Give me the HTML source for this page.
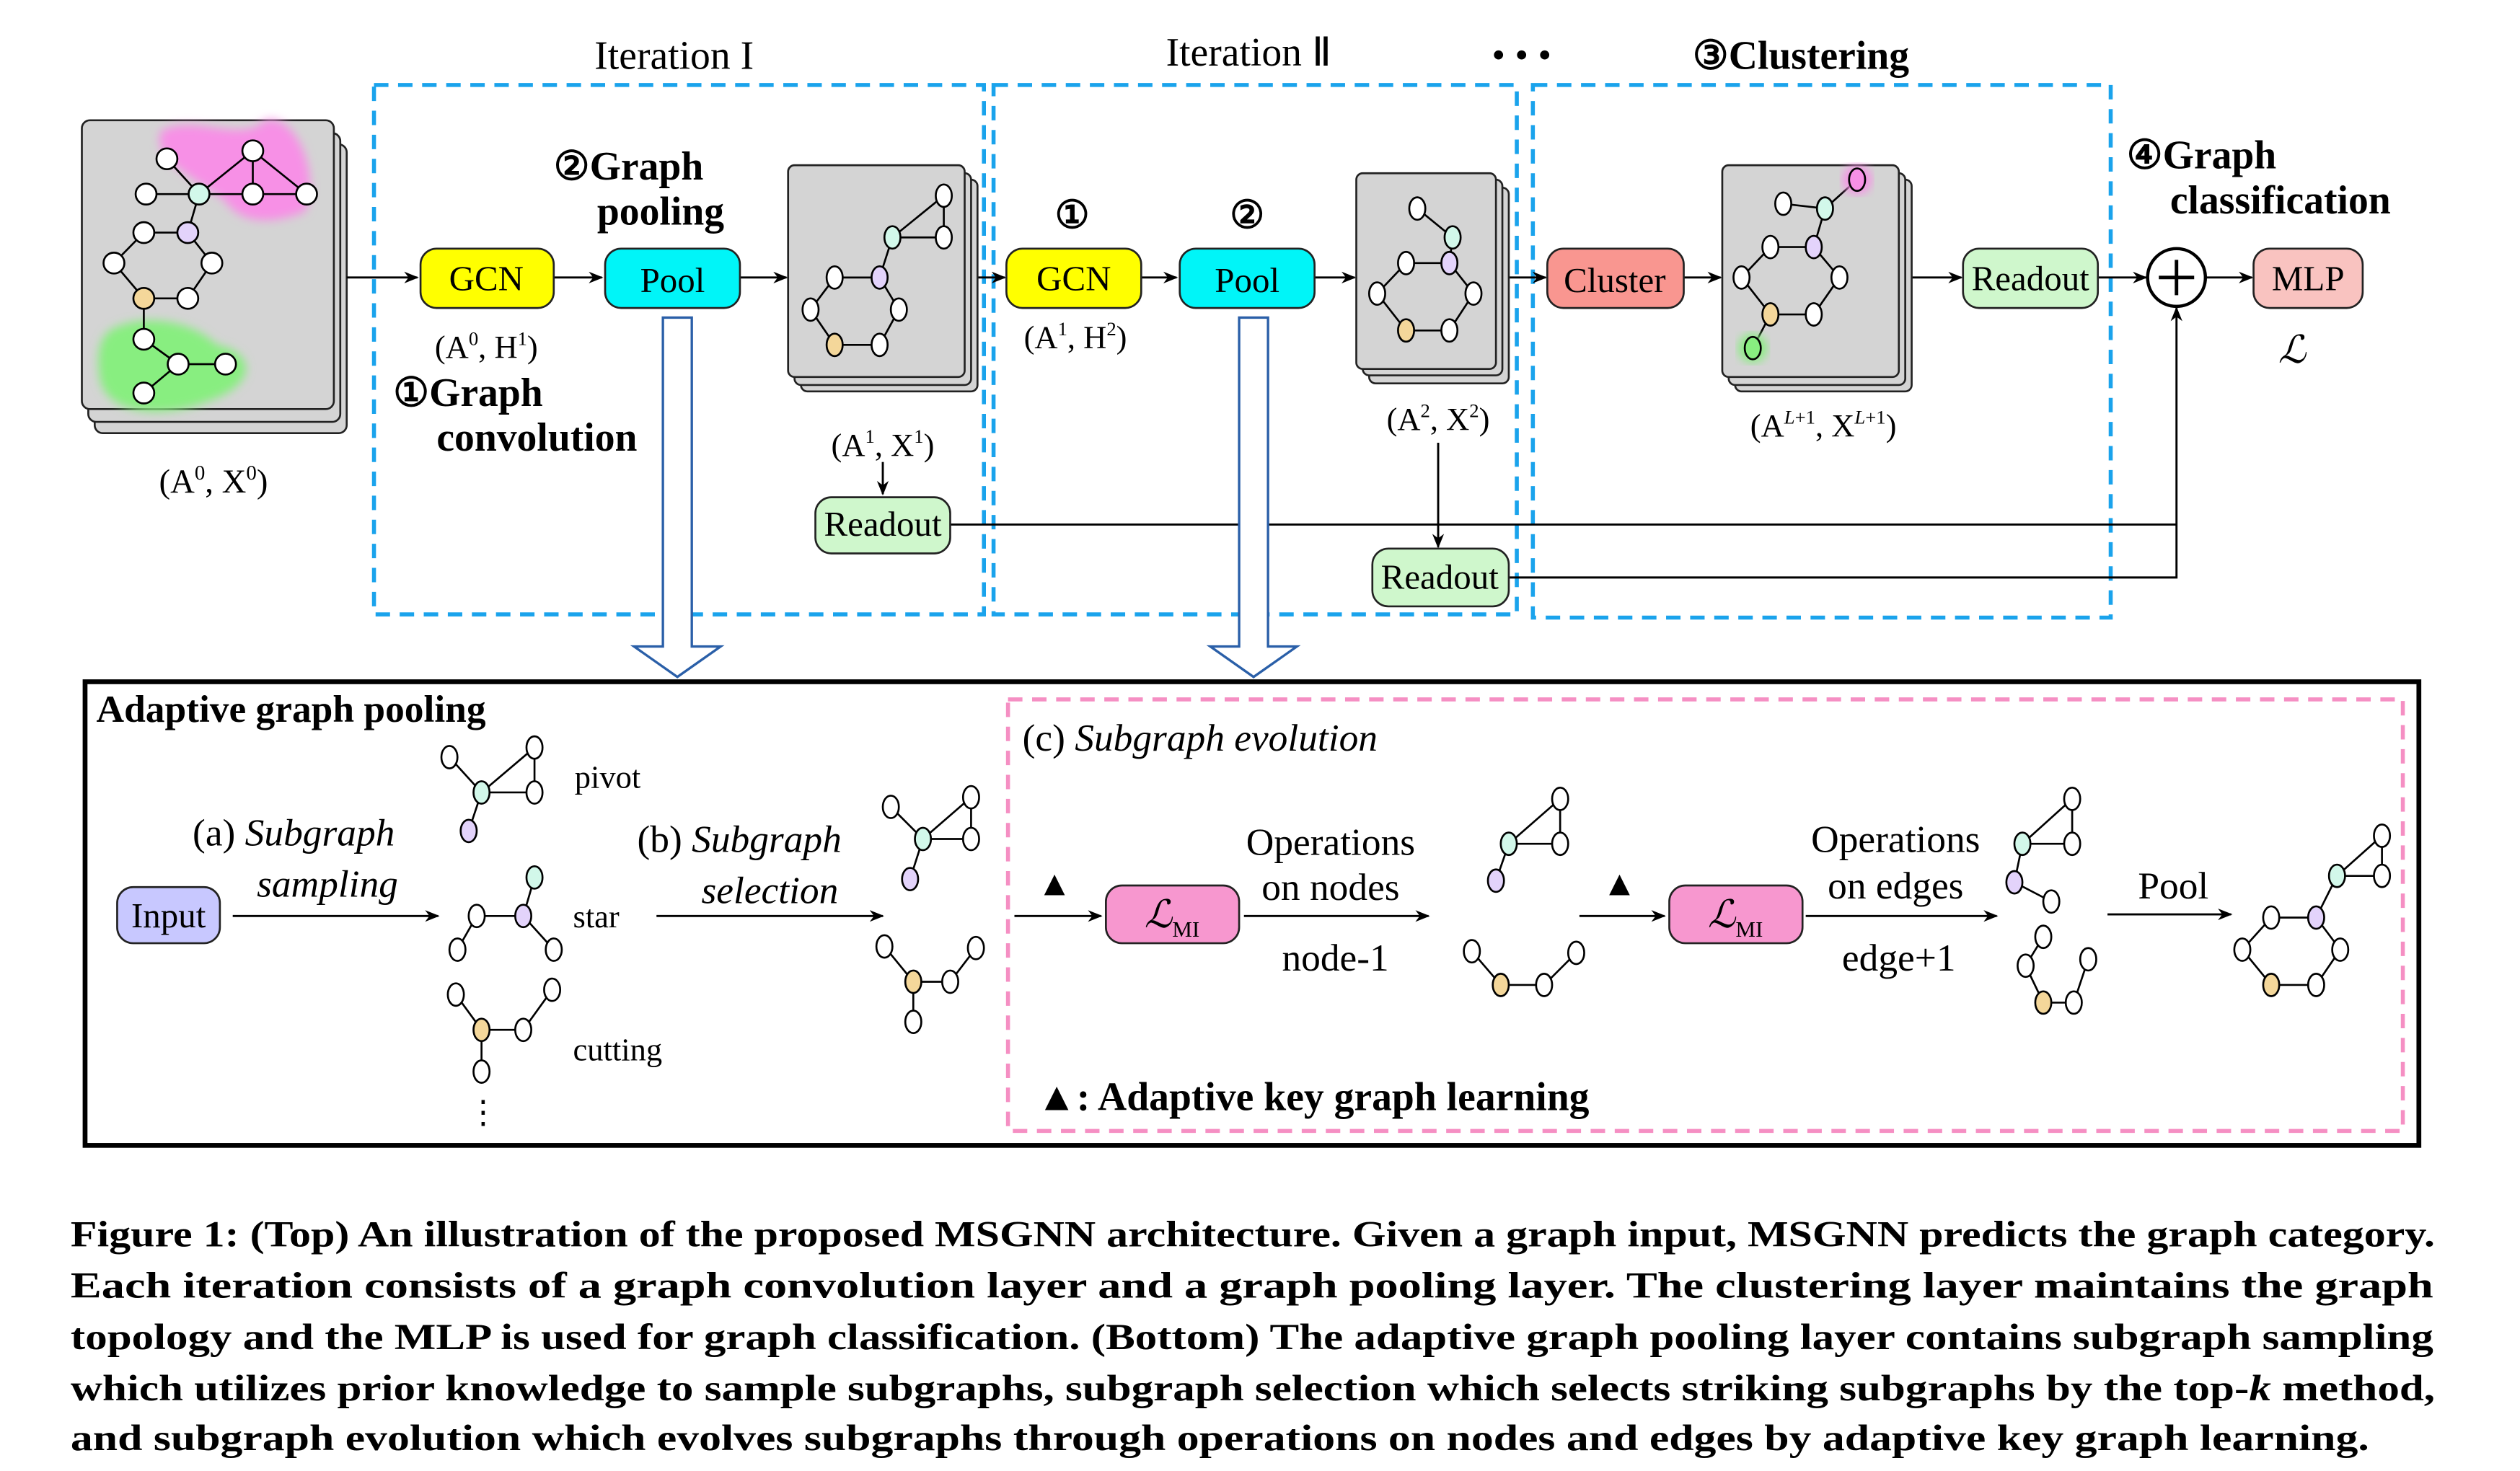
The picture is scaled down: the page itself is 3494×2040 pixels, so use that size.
<!DOCTYPE html>
<html><head><meta charset="utf-8"><style>
html,body{margin:0;padding:0;background:#fff}
svg{display:block}
text{font-family:"Liberation Serif",serif;fill:#000}
.b{font-weight:bold}
.i{font-style:italic}
.e line,.e path{stroke:#000;stroke-width:1.2;fill:none}
.n ellipse,.n circle{stroke:#000;stroke-width:1.2}
</style></head><body>
<svg width="3494" height="2040" viewBox="0 0 1570 917" preserveAspectRatio="none" xmlns="http://www.w3.org/2000/svg">
<defs>
<marker id="ar" viewBox="0 0 10 10" refX="9" refY="5" markerWidth="7" markerHeight="7" orient="auto"><path d="M0,1 L10,5 L0,9 L3,5 Z" fill="#000"/></marker>
<filter id="bl"><feGaussianBlur stdDeviation="3"/></filter>
</defs>

<g fill="none" stroke="#1aa3ec" stroke-width="2.5" stroke-dasharray="9,6">
<rect x="233" y="53" width="380" height="330"/>
<rect x="619" y="53" width="326" height="330"/>
<rect x="955" y="53" width="360" height="332"/>
</g>
<text x="420" y="43" font-size="25" text-anchor="middle">Iteration I</text>
<text x="778" y="41" font-size="25" text-anchor="middle">Iteration Ⅱ</text>
<text x="948" y="42" font-size="24" text-anchor="middle">• • •</text>
<text x="1122" y="43" font-size="25" text-anchor="middle" class="b">③Clustering</text>

<g fill="#d4d4d4" stroke="#222" stroke-width="1.2">
<rect x="59" y="90" width="157" height="180" rx="5"/>
<rect x="55" y="83" width="157" height="180" rx="5"/>
<rect x="51" y="75" width="157" height="180" rx="5"/>
</g>
<path d="M100,82 C120,70 150,90 165,75 C185,70 200,110 190,132 C170,140 150,140 140,125 C120,110 95,100 100,82Z" fill="#f790e6" filter="url(#bl)"/>
<path d="M70,205 C90,195 120,200 135,215 C160,220 160,240 130,250 C100,262 65,258 62,235 C60,220 62,210 70,205Z" fill="#88ee80" filter="url(#bl)"/>
<g class="e">
<line x1="104" y1="99" x2="124" y2="121"/><line x1="91" y1="121" x2="191" y2="121"/>
<line x1="124" y1="121" x2="157.5" y2="94"/><line x1="157.5" y1="94" x2="157.5" y2="121"/><line x1="157.5" y1="94" x2="191" y2="121"/>
<line x1="124" y1="121" x2="117" y2="145"/>
<path d="M89.6,145 L117,145 L132,164 L117,186 L89.6,186 L71,164 Z"/>
<line x1="89.6" y1="186" x2="89.6" y2="211.5"/><line x1="89.6" y1="211.5" x2="111" y2="227"/><line x1="111" y1="227" x2="140.5" y2="227"/><line x1="111" y1="227" x2="89.6" y2="245"/>
</g>
<g class="n" fill="#fff">
<circle cx="104" cy="99" r="6.5"/><circle cx="157.5" cy="94" r="6.5"/><circle cx="124" cy="121" r="6.5" fill="#d2f8ea"/><circle cx="91" cy="121" r="6.5"/><circle cx="157.5" cy="121" r="6.5"/><circle cx="191" cy="121" r="6.5"/>
<circle cx="89.6" cy="145" r="6.5"/><circle cx="117" cy="145" r="6.5" fill="#e3d3fb"/><circle cx="71" cy="164" r="6.5"/><circle cx="132" cy="164" r="6.5"/><circle cx="89.6" cy="186" r="6.5" fill="#f4d79a"/><circle cx="117" cy="186" r="6.5"/>
<circle cx="89.6" cy="211.5" r="6.5"/><circle cx="111" cy="227" r="6.5"/><circle cx="140.5" cy="227" r="6.5"/><circle cx="89.6" cy="245" r="6.5"/>
</g>
<text x="133" y="307" font-size="21" text-anchor="middle">(A<tspan font-size="13" dy="-8">0</tspan><tspan dy="8">, X</tspan><tspan font-size="13" dy="-8">0</tspan><tspan dy="8">)</tspan></text>

<g stroke="#000" stroke-width="1.3" marker-end="url(#ar)">
<line x1="216" y1="173" x2="260" y2="173"/>
<line x1="345" y1="173" x2="375" y2="173"/>
<line x1="461" y1="173" x2="490" y2="173"/>
<line x1="608" y1="173" x2="626" y2="173"/>
<line x1="711" y1="173" x2="733" y2="173"/>
<line x1="819" y1="173" x2="844" y2="173"/>
<line x1="940" y1="173" x2="963" y2="173"/>
<line x1="1049" y1="173" x2="1072" y2="173"/>
<line x1="1190" y1="173" x2="1222" y2="173"/>
<line x1="1307" y1="173" x2="1337" y2="173"/>
<line x1="1374" y1="173" x2="1403" y2="173"/>
<line x1="550" y1="288" x2="550" y2="308"/>
<line x1="896" y1="276" x2="896" y2="341"/>
<line x1="1356" y1="327" x2="1356" y2="192"/>
</g>
<g stroke="#000" stroke-width="1.3" fill="none">
<polyline points="592,327 1356,327"/>
<polyline points="940,360 1356,360 1356,327"/>
</g>

<g stroke="#222" stroke-width="1.2">
<rect x="262" y="155" width="83" height="37" rx="10" fill="#ffff00"/>
<rect x="377" y="155" width="84" height="37" rx="10" fill="#00f5f8"/>
<rect x="627" y="155" width="84" height="37" rx="10" fill="#ffff00"/>
<rect x="735" y="155" width="84" height="37" rx="10" fill="#00f5f8"/>
<rect x="964" y="155" width="85" height="37" rx="10" fill="#f99690"/>
<rect x="1223" y="155" width="84" height="37" rx="10" fill="#cff7cc"/>
<rect x="1404" y="155" width="68" height="37" rx="10" fill="#f9c3c0"/>
<rect x="508" y="310" width="84" height="35" rx="10" fill="#cff7cc"/>
<rect x="855" y="342" width="85" height="36" rx="10" fill="#cff7cc"/>
</g>
<circle cx="1356" cy="173" r="18" fill="#fff" stroke="#000" stroke-width="2"/>
<path d="M1345,173 H1367 M1356,162 V184" stroke="#000" stroke-width="2.2"/>
<g font-size="22" text-anchor="middle">
<text x="303" y="181">GCN</text><text x="419" y="182">Pool</text>
<text x="669" y="181">GCN</text><text x="777" y="182">Pool</text>
<text x="1006" y="182">Cluster</text><text x="1265" y="181">Readout</text>
<text x="1438" y="181">MLP</text>
<text x="550" y="334">Readout</text><text x="897" y="367">Readout</text>
</g>
<text x="1428" y="226" font-size="24" class="i" text-anchor="middle">ℒ</text>

<text x="345" y="112" font-size="25" class="b">②Graph</text>
<text x="372" y="140" font-size="25" class="b">pooling</text>
<text x="245" y="253" font-size="25" class="b">①Graph</text>
<text x="272" y="281" font-size="25" class="b">convolution</text>
<text x="1325" y="105" font-size="25" class="b">④Graph</text>
<text x="1352" y="133" font-size="25" class="b">classification</text>
<text x="668" y="142" font-size="24" class="b" text-anchor="middle">①</text>
<text x="777" y="142" font-size="24" class="b" text-anchor="middle">②</text>

<g font-size="20" text-anchor="middle">
<text x="303" y="223">(A<tspan font-size="12" dy="-8">0</tspan><tspan dy="8">, H</tspan><tspan font-size="12" dy="-8">1</tspan><tspan dy="8">)</tspan></text>
<text x="670" y="217">(A<tspan font-size="12" dy="-8">1</tspan><tspan dy="8">, H</tspan><tspan font-size="12" dy="-8">2</tspan><tspan dy="8">)</tspan></text>
<text x="550" y="284">(A<tspan font-size="12" dy="-8">1</tspan><tspan dy="8">, X</tspan><tspan font-size="12" dy="-8">1</tspan><tspan dy="8">)</tspan></text>
<text x="896" y="268">(A<tspan font-size="12" dy="-8">2</tspan><tspan dy="8">, X</tspan><tspan font-size="12" dy="-8">2</tspan><tspan dy="8">)</tspan></text>
<text x="1136" y="272">(A<tspan font-size="12" dy="-8" class="i">L</tspan><tspan font-size="12">+1</tspan><tspan dy="8">, X</tspan><tspan font-size="12" dy="-8" class="i">L</tspan><tspan font-size="12">+1</tspan><tspan dy="8">)</tspan></text>
</g>

<g fill="#d4d4d4" stroke="#222" stroke-width="1.2">
<rect x="499" y="112" width="110" height="132" rx="4"/><rect x="495" y="108" width="110" height="132" rx="4"/><rect x="491" y="103" width="110" height="132" rx="4"/>
<rect x="853" y="117" width="87" height="122" rx="4"/><rect x="849" y="112" width="87" height="122" rx="4"/><rect x="845" y="108" width="87" height="122" rx="4"/>
<rect x="1081" y="112" width="110" height="132" rx="4"/><rect x="1077" y="108" width="110" height="132" rx="4"/><rect x="1073" y="103" width="110" height="132" rx="4"/>
</g>
<g class="e">
<line x1="588" y1="122" x2="556" y2="148"/><line x1="588" y1="122" x2="588" y2="148"/><line x1="556" y1="148" x2="588" y2="148"/><line x1="556" y1="148" x2="548" y2="173"/>
<path d="M520,173 L548,173 L560,193 L548,215 L520,215 L505,193 Z"/>
<line x1="883" y1="130" x2="905" y2="148"/><line x1="905" y1="148" x2="903" y2="164"/>
<path d="M876,164 L903,164 L918,183 L903,206 L876,206 L858,183 Z"/>
<line x1="1157" y1="112" x2="1137" y2="130"/><line x1="1111" y1="127" x2="1137" y2="130"/><line x1="1137" y1="130" x2="1130" y2="154"/>
<path d="M1103,154 L1130,154 L1146,173 L1130,196 L1103,196 L1085,173 Z"/><line x1="1103" y1="196" x2="1092" y2="217"/>
</g>
<circle cx="1157" cy="112" r="9" fill="#f790e6" filter="url(#bl)"/>
<circle cx="1092" cy="217" r="9" fill="#88ee80" filter="url(#bl)"/>
<g class="n" fill="#fff">
<ellipse cx="588" cy="122" rx="5" ry="7"/><ellipse cx="556" cy="148" rx="5" ry="7" fill="#d2f8ea"/><ellipse cx="588" cy="148" rx="5" ry="7"/>
<ellipse cx="520" cy="173" rx="5" ry="7"/><ellipse cx="548" cy="173" rx="5" ry="7" fill="#e3d3fb"/><ellipse cx="505" cy="193" rx="5" ry="7"/><ellipse cx="560" cy="193" rx="5" ry="7"/><ellipse cx="520" cy="215" rx="5" ry="7" fill="#f4d79a"/><ellipse cx="548" cy="215" rx="5" ry="7"/>
<ellipse cx="883" cy="130" rx="5" ry="7"/><ellipse cx="905" cy="148" rx="5" ry="7" fill="#d2f8ea"/><ellipse cx="876" cy="164" rx="5" ry="7"/><ellipse cx="903" cy="164" rx="5" ry="7" fill="#e3d3fb"/><ellipse cx="858" cy="183" rx="5" ry="7"/><ellipse cx="918" cy="183" rx="5" ry="7"/><ellipse cx="876" cy="206" rx="5" ry="7" fill="#f4d79a"/><ellipse cx="903" cy="206" rx="5" ry="7"/>
<ellipse cx="1157" cy="112" rx="5" ry="7" fill="#f790e6"/><ellipse cx="1137" cy="130" rx="5" ry="7" fill="#d2f8ea"/><ellipse cx="1111" cy="127" rx="5" ry="7"/><ellipse cx="1103" cy="154" rx="5" ry="7"/><ellipse cx="1130" cy="154" rx="5" ry="7" fill="#e3d3fb"/><ellipse cx="1085" cy="173" rx="5" ry="7"/><ellipse cx="1146" cy="173" rx="5" ry="7"/><ellipse cx="1103" cy="196" rx="5" ry="7" fill="#f4d79a"/><ellipse cx="1130" cy="196" rx="5" ry="7"/><ellipse cx="1092" cy="217" rx="5" ry="7" fill="#88ee80"/>
</g>

<g fill="#fff" stroke="#2a5fa8" stroke-width="1.5">
<path d="M413,198 H431 V403 H449 L422,422 L395,403 H413 Z"/>
<path d="M772,198 H790 V403 H808 L781,422 L754,403 H772 Z"/>
</g>

<rect x="53" y="425" width="1454" height="289" fill="none" stroke="#000" stroke-width="3"/>
<rect x="628" y="436" width="869" height="269" fill="none" stroke="#f58fc3" stroke-width="2.5" stroke-dasharray="9,6"/>
<text x="60" y="450" font-size="24" class="b">Adaptive graph pooling</text>

<rect x="73" y="553" width="64" height="35" rx="10" fill="#c8c8ff" stroke="#222" stroke-width="1.2"/>
<text x="105" y="578" font-size="22" text-anchor="middle">Input</text>
<g stroke="#000" stroke-width="1.3" marker-end="url(#ar)">
<line x1="145" y1="571" x2="273" y2="571"/>
<line x1="409" y1="571" x2="550" y2="571"/>
<line x1="632" y1="571" x2="686" y2="571"/>
<line x1="775" y1="571" x2="890" y2="571"/>
<line x1="984" y1="571" x2="1037" y2="571"/>
<line x1="1125" y1="571" x2="1244" y2="571"/>
<line x1="1313" y1="570" x2="1390" y2="570"/>
</g>
<g font-size="24">
<text x="120" y="527">(a) <tspan class="i">Subgraph</tspan></text>
<text x="160" y="559" class="i">sampling</text>
<text x="397" y="531">(b) <tspan class="i">Subgraph</tspan></text>
<text x="437" y="563" class="i">selection</text>
<text x="637" y="468">(c) <tspan class="i">Subgraph evolution</tspan></text>
<text x="829" y="533" text-anchor="middle">Operations</text>
<text x="829" y="561" text-anchor="middle">on nodes</text>
<text x="832" y="605" text-anchor="middle">node-1</text>
<text x="1181" y="531" text-anchor="middle">Operations</text>
<text x="1181" y="560" text-anchor="middle">on edges</text>
<text x="1183" y="605" text-anchor="middle">edge+1</text>
<text x="1354" y="560" text-anchor="middle">Pool</text>
</g>
<g font-size="20">
<text x="358" y="491">pivot</text><text x="357" y="578">star</text><text x="357" y="661">cutting</text>
</g>
<text x="301" y="700" font-size="20" text-anchor="middle">⋮</text>
<text x="657" y="558" font-size="22" text-anchor="middle">▲</text>
<text x="1009" y="558" font-size="22" text-anchor="middle">▲</text>
<text x="646" y="692" font-size="25" class="b">▲: Adaptive key graph learning</text>
<g stroke="#222" stroke-width="1.2" fill="#f797cf">
<rect x="689" y="552" width="83" height="36" rx="10"/><rect x="1040" y="552" width="83" height="36" rx="10"/>
</g>
<text x="713" y="578" font-size="24" class="i">ℒ<tspan font-size="14" dy="6" font-style="normal">MI</tspan></text>
<text x="1064" y="578" font-size="24" class="i">ℒ<tspan font-size="14" dy="6" font-style="normal">MI</tspan></text>

<g class="e">
<line x1="280" y1="472" x2="300" y2="494"/><line x1="333" y1="466" x2="300" y2="494"/><line x1="333" y1="466" x2="333" y2="494"/><line x1="300" y1="494" x2="333" y2="494"/><line x1="300" y1="494" x2="292" y2="518"/>
<line x1="333" y1="547" x2="326" y2="571"/><line x1="297" y1="571" x2="326" y2="571"/><line x1="297" y1="571" x2="285" y2="592"/><line x1="326" y1="571" x2="345" y2="592"/>
<line x1="284" y1="620" x2="300" y2="642"/><line x1="300" y1="642" x2="326" y2="642"/><line x1="326" y1="642" x2="344" y2="617"/><line x1="300" y1="642" x2="300" y2="668"/>
<line x1="555" y1="503" x2="575" y2="523"/><line x1="605" y1="497" x2="575" y2="523"/><line x1="605" y1="497" x2="605" y2="523"/><line x1="575" y1="523" x2="605" y2="523"/><line x1="575" y1="523" x2="567" y2="548"/>
<line x1="551" y1="590" x2="569" y2="612"/><line x1="569" y1="612" x2="592" y2="612"/><line x1="592" y1="612" x2="608" y2="591"/><line x1="569" y1="612" x2="569" y2="637"/>
<line x1="972" y1="498" x2="940" y2="526"/><line x1="972" y1="498" x2="972" y2="526"/><line x1="940" y1="526" x2="972" y2="526"/><line x1="940" y1="526" x2="932" y2="549"/>
<line x1="917" y1="593" x2="935" y2="614"/><line x1="935" y1="614" x2="962" y2="614"/><line x1="962" y1="614" x2="982" y2="594"/>
<line x1="1291" y1="498" x2="1260" y2="526"/><line x1="1291" y1="498" x2="1291" y2="526"/><line x1="1260" y1="526" x2="1291" y2="526"/><line x1="1260" y1="526" x2="1255" y2="550"/><line x1="1255" y1="550" x2="1278" y2="562"/>
<line x1="1273" y1="584" x2="1262" y2="602"/><line x1="1262" y1="602" x2="1273" y2="625"/><line x1="1273" y1="625" x2="1292" y2="625"/><line x1="1292" y1="625" x2="1301" y2="598"/>
<line x1="1484" y1="521" x2="1456" y2="546"/><line x1="1484" y1="521" x2="1484" y2="546"/><line x1="1456" y1="546" x2="1484" y2="546"/><line x1="1456" y1="546" x2="1443" y2="572"/>
<path d="M1415,572 L1443,572 L1458,592 L1443,614 L1415,614 L1397,592 Z"/>
</g>
<g class="n" fill="#fff">
<ellipse cx="280" cy="472" rx="5" ry="7"/><ellipse cx="333" cy="466" rx="5" ry="7"/><ellipse cx="300" cy="494" rx="5" ry="7" fill="#d2f8ea"/><ellipse cx="333" cy="494" rx="5" ry="7"/><ellipse cx="292" cy="518" rx="5" ry="7" fill="#e3d3fb"/>
<ellipse cx="333" cy="547" rx="5" ry="7" fill="#d2f8ea"/><ellipse cx="326" cy="571" rx="5" ry="7" fill="#e3d3fb"/><ellipse cx="297" cy="571" rx="5" ry="7"/><ellipse cx="285" cy="592" rx="5" ry="7"/><ellipse cx="345" cy="592" rx="5" ry="7"/>
<ellipse cx="284" cy="620" rx="5" ry="7"/><ellipse cx="344" cy="617" rx="5" ry="7"/><ellipse cx="300" cy="642" rx="5" ry="7" fill="#f4d79a"/><ellipse cx="326" cy="642" rx="5" ry="7"/><ellipse cx="300" cy="668" rx="5" ry="7"/>
<ellipse cx="555" cy="503" rx="5" ry="7"/><ellipse cx="605" cy="497" rx="5" ry="7"/><ellipse cx="575" cy="523" rx="5" ry="7" fill="#d2f8ea"/><ellipse cx="605" cy="523" rx="5" ry="7"/><ellipse cx="567" cy="548" rx="5" ry="7" fill="#e3d3fb"/>
<ellipse cx="551" cy="590" rx="5" ry="7"/><ellipse cx="608" cy="591" rx="5" ry="7"/><ellipse cx="569" cy="612" rx="5" ry="7" fill="#f4d79a"/><ellipse cx="592" cy="612" rx="5" ry="7"/><ellipse cx="569" cy="637" rx="5" ry="7"/>
<ellipse cx="972" cy="498" rx="5" ry="7"/><ellipse cx="940" cy="526" rx="5" ry="7" fill="#d2f8ea"/><ellipse cx="972" cy="526" rx="5" ry="7"/><ellipse cx="932" cy="549" rx="5" ry="7" fill="#e3d3fb"/>
<ellipse cx="917" cy="593" rx="5" ry="7"/><ellipse cx="935" cy="614" rx="5" ry="7" fill="#f4d79a"/><ellipse cx="962" cy="614" rx="5" ry="7"/><ellipse cx="982" cy="594" rx="5" ry="7"/>
<ellipse cx="1291" cy="498" rx="5" ry="7"/><ellipse cx="1260" cy="526" rx="5" ry="7" fill="#d2f8ea"/><ellipse cx="1291" cy="526" rx="5" ry="7"/><ellipse cx="1255" cy="550" rx="5" ry="7" fill="#e3d3fb"/><ellipse cx="1278" cy="562" rx="5" ry="7"/>
<ellipse cx="1273" cy="584" rx="5" ry="7"/><ellipse cx="1262" cy="602" rx="5" ry="7"/><ellipse cx="1273" cy="625" rx="5" ry="7" fill="#f4d79a"/><ellipse cx="1292" cy="625" rx="5" ry="7"/><ellipse cx="1301" cy="598" rx="5" ry="7"/>
<ellipse cx="1484" cy="521" rx="5" ry="7"/><ellipse cx="1456" cy="546" rx="5" ry="7" fill="#d2f8ea"/><ellipse cx="1484" cy="546" rx="5" ry="7"/>
<ellipse cx="1415" cy="572" rx="5" ry="7"/><ellipse cx="1443" cy="572" rx="5" ry="7" fill="#e3d3fb"/><ellipse cx="1397" cy="592" rx="5" ry="7"/><ellipse cx="1458" cy="592" rx="5" ry="7"/><ellipse cx="1415" cy="614" rx="5" ry="7" fill="#f4d79a"/><ellipse cx="1443" cy="614" rx="5" ry="7"/>
</g>

<g font-size="23" class="b">
<text x="44" y="777" textLength="1473" lengthAdjust="spacingAndGlyphs">Figure 1: (Top) An illustration of the proposed MSGNN architecture. Given a graph input, MSGNN predicts the graph category.</text>
<text x="44" y="809" textLength="1472" lengthAdjust="spacingAndGlyphs">Each iteration consists of a graph convolution layer and a graph pooling layer. The clustering layer maintains the graph</text>
<text x="44" y="841" textLength="1472" lengthAdjust="spacingAndGlyphs">topology and the MLP is used for graph classification. (Bottom) The adaptive graph pooling layer contains subgraph sampling</text>
<text x="44" y="873" textLength="1473" lengthAdjust="spacingAndGlyphs">which utilizes prior knowledge to sample subgraphs, subgraph selection which selects striking subgraphs by the top-<tspan class="i">k</tspan> method,</text>
<text x="44" y="904" textLength="1432" lengthAdjust="spacingAndGlyphs">and subgraph evolution which evolves subgraphs through operations on nodes and edges by adaptive key graph learning.</text>
</g>
</svg>
</body></html>
